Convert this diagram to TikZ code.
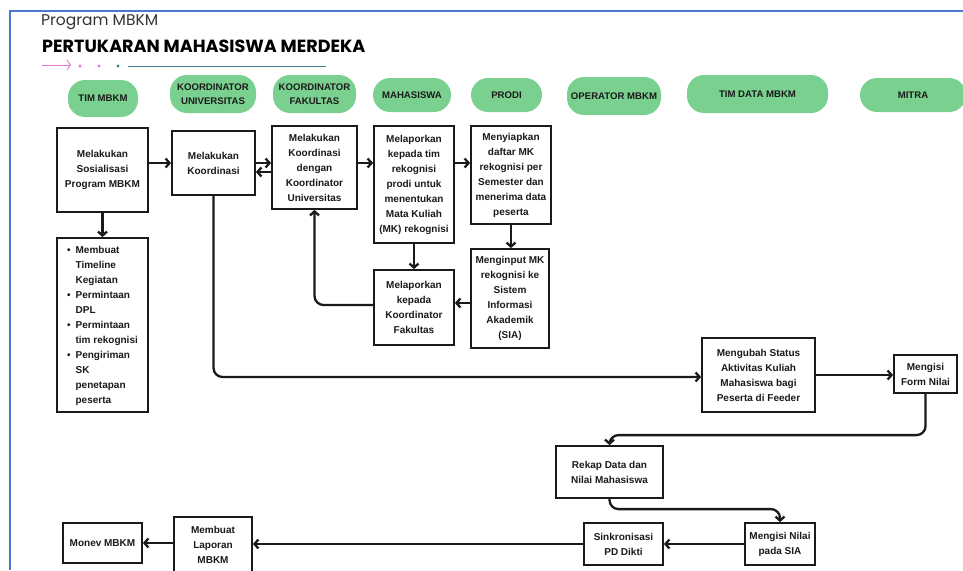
\documentclass[tikz,border=0pt]{standalone}
\usepackage{fontspec}
\setmainfont{Liberation Sans}
\newfontfamily\titlefont{Poppins}
\usetikzlibrary{arrows.meta}
\definecolor{pillgreen}{HTML}{7AD18F}
\definecolor{frameblue}{HTML}{4A78CC}
\definecolor{decopink}{HTML}{E07AD8}
\definecolor{decoteal}{HTML}{3F7F8C}
\definecolor{ink}{HTML}{1A1A1A}
\tikzset{
  pill/.style={fill=pillgreen, rounded corners=17pt, inner sep=0pt, align=center,
    font=\fontsize{9.6}{14}\selectfont\bfseries, text=ink},
  box/.style={draw=ink, line width=1.8pt, fill=white, inner sep=0pt, align=center,
    font=\fontsize{10}{15}\selectfont\bfseries, text=ink},
  arr/.style={draw=ink, line width=2.3pt, -{Straight Barb[length=4pt,width=9pt]}},
  rarr/.style={arr, rounded corners=9pt}
}
\begin{document}
\begin{tikzpicture}[x=1pt,y=-1pt]
\useasboundingbox (0,0) rectangle (963,570);
% frame
\draw[frameblue, line width=2pt] (10,570) -- (10,11) -- (963,11);
% titles
\node[anchor=west, inner sep=0pt, text=black!80, font=\titlefont\fontsize{15.5}{17}\selectfont] (t1) at (41,22) {Program MBKM};
\node[anchor=west, inner sep=0pt, text=black, font=\titlefont\fontsize{17.6}{20}\selectfont\bfseries] (t2) at (42,46) {PERTUKARAN MAHASISWA MERDEKA};
% decoration
\coordinate (d0) at (42,65);
\coordinate (d1) at (71,65);
\draw[decopink, line width=0.9pt, -{Straight Barb[length=3.5pt,width=10pt]}] (d0) -- (d1);
\fill[decopink] (80,66) circle (1.6);
\fill[decopink] (99,66) circle (1.6);
\fill[decoteal] (118,66) circle (1.6);
\coordinate (l0) at (128,66);
\coordinate (l1) at (326,66);
\draw[decoteal, line width=1pt] (l0) -- (l1);
% lanes
\node[pill, minimum width=70pt, minimum height=37pt] (p1) at (103,98.5) {TIM MBKM};
\node[pill, minimum width=86pt, minimum height=38pt] (p2) at (213,94) {KOORDINATOR\\UNIVERSITAS};
\node[pill, minimum width=83pt, minimum height=38pt] (p3) at (314.5,94) {KOORDINATOR\\FAKULTAS};
\node[pill, minimum width=78pt, minimum height=34pt] (p4) at (412,95) {MAHASISWA};
\node[pill, minimum width=71pt, minimum height=34pt] (p5) at (506.5,95) {PRODI};
\node[pill, minimum width=94pt, minimum height=38pt] (p6) at (614,96) {OPERATOR MBKM};
\node[pill, minimum width=141pt, minimum height=38pt] (p7) at (757.5,94) {TIM DATA MBKM};
\node[pill, minimum width=106pt, minimum height=34pt] (p8) at (913,95) {MITRA};
% boxes
\node[box, minimum width=91pt, minimum height=84pt] (b1) at (102.5,170) {Melakukan\\Sosialisasi\\Program MBKM};
\node[box, minimum width=91pt, minimum height=174pt] (b2) at (102.5,325) {\fontsize{10}{15}\selectfont
\begin{tabular}{@{}l@{\hspace{5pt}}l@{}}
\textbullet & Membuat\\ & Timeline\\ & Kegiatan\\
\textbullet & Permintaan\\ & DPL\\
\textbullet & Permintaan\\ & tim rekognisi\\
\textbullet & Pengiriman\\ & SK\\ & penetapan\\ & peserta
\end{tabular}};
\node[box, minimum width=83pt, minimum height=64pt] (b3) at (213.5,163) {Melakukan\\Koordinasi};
\node[box, minimum width=85pt, minimum height=83pt] (b4) at (314.5,167.5) {Melakukan\\Koordinasi\\dengan\\Koordinator\\Universitas};
\node[box, minimum width=80pt, minimum height=117pt] (b5) at (414,184.5) {Melaporkan\\kepada tim\\rekognisi\\prodi untuk\\menentukan\\Mata Kuliah\\(MK) rekognisi};
\node[box, minimum width=80pt, minimum height=98pt] (b6) at (511,175) {Menyiapkan\\daftar MK\\rekognisi per\\Semester dan\\menerima data\\peserta};
\node[box, minimum width=80pt, minimum height=75pt] (b7) at (414,307.5) {Melaporkan\\kepada\\Koordinator\\Fakultas};
\node[box, minimum width=78pt, minimum height=99pt] (b8) at (510,298.5) {Menginput MK\\rekognisi ke\\Sistem\\Informasi\\Akademik\\(SIA)};
\node[box, minimum width=113pt, minimum height=74pt] (b9) at (758.5,375) {Mengubah Status\\Aktivitas Kuliah\\Mahasiswa bagi\\Peserta di Feeder};
\node[box, minimum width=63pt, minimum height=38pt] (b10) at (925.5,374) {Mengisi\\Form Nilai};
\node[box, minimum width=107pt, minimum height=52pt] (b11) at (609.5,472) {Rekap Data dan\\Nilai Mahasiswa};
\node[box, minimum width=70pt, minimum height=42pt] (b12) at (780,544) {Mengisi Nilai\\pada SIA};
\node[box, minimum width=79pt, minimum height=42pt] (b13) at (623.5,544) {Sinkronisasi\\PD Dikti};
\node[box, minimum width=78pt, minimum height=56pt] (b14) at (213,545) {Membuat\\Laporan\\MBKM};
\node[box, minimum width=79pt, minimum height=40pt] (b15) at (102.5,543) {Monev MBKM};
% connectors
\draw[arr] (b1.east |- b3.west) -- (b3.west);
\draw[arr] (b1.south) -- (b2.north);
\draw[arr] (b3.east) -- (b4.west |- b3.east);
\draw[arr] (b4.west |- 0,172) -- (b3.east |- 0,172);
\draw[arr] (b4.east |- 0,163) -- (b5.west |- 0,163);
\draw[arr] (b5.east |- 0,163) -- (b6.west |- 0,163);
\draw[arr] (b5.south) -- (b7.north);
\draw[arr] (b6.south) -- (b6.south |- b8.north);
\draw[arr] (b8.west |- 0,303) -- (b7.east |- 0,303);
\draw[rarr] (b7.west |- 0,305) -| (b4.south);
\draw[rarr] (b3.south) |- (b9.west |- 0,377);
\draw[arr] (b9.east) -- (b10.west |- b9.east);
\draw[rarr] (b10.south) |- ([yshift=10pt]b11.north) -- (b11.north);
\draw[rarr] (b11.south) |- ([yshift=13pt]b12.north) -- (b12.north);
\draw[arr] (b12.west) -- (b13.east);
\draw[arr] (b13.west) -- (b14.east |- b13.west);
\draw[arr] (b14.west |- b15.east) -- (b15.east);
\end{tikzpicture}
\end{document}
